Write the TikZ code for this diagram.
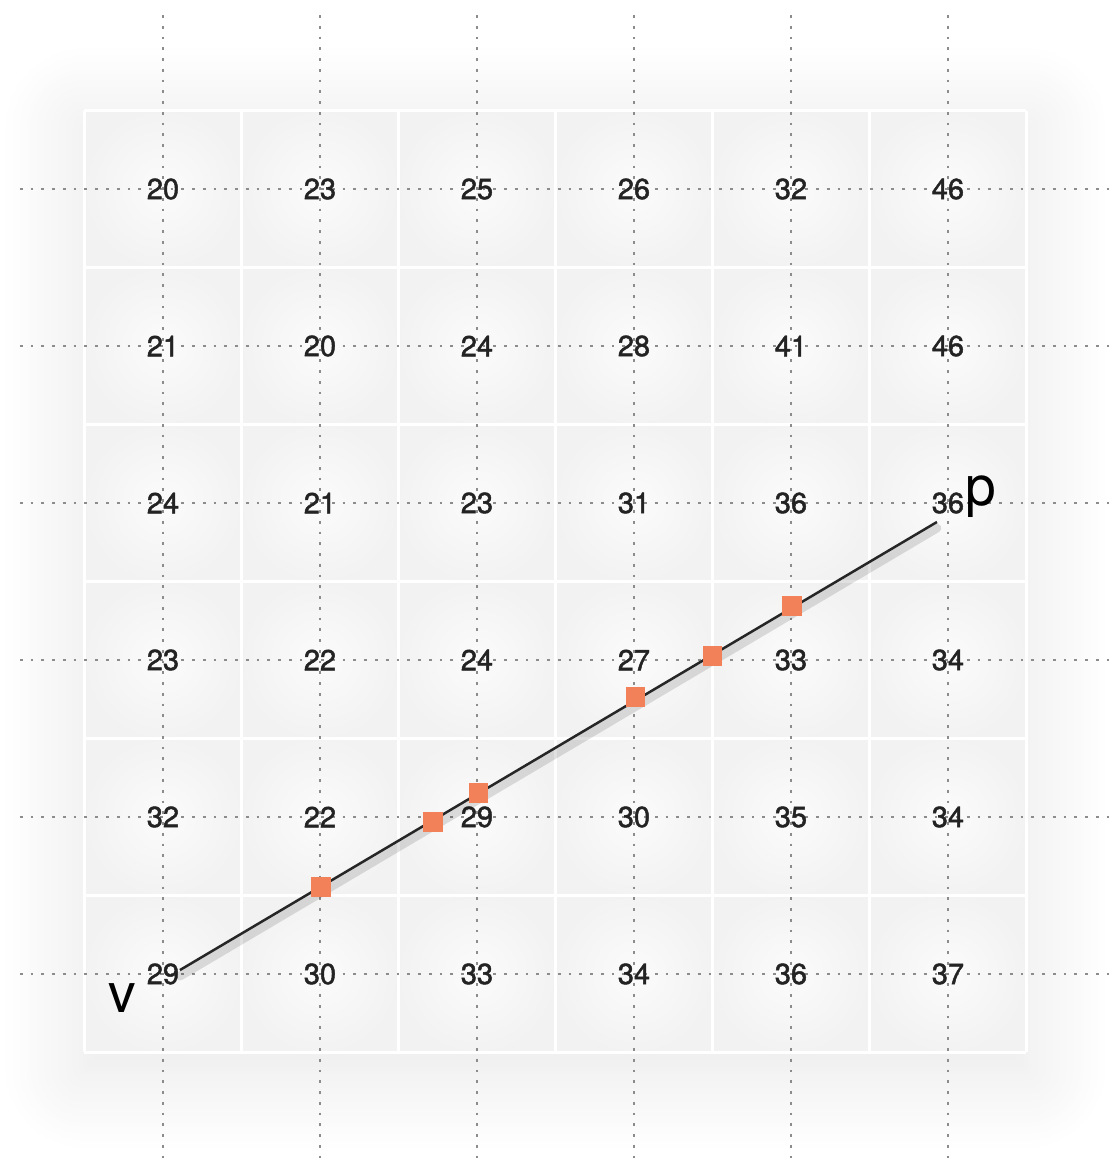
\documentclass[tikz,border=0pt]{standalone}
\usepackage{fontspec}
\setmainfont{TeX Gyre Heros}
\newfontfamily\valfont[FakeBold=1.6]{TeX Gyre Heros}
\usetikzlibrary{positioning, shadows.blur}
\definecolor{hitorange}{RGB}{242, 128, 88}
\definecolor{valgray}{RGB}{35, 35, 35}

\begin{document}
\begin{tikzpicture}[x=2cm, y=2cm,
    gridline/.style={gray!90, line width=0.7pt, dash pattern=on 1pt off 2.9pt},
    tile/.style={inner color=gray!3, outer color=gray!10},
    value/.style={text=valgray, font=\valfont\fontsize{10.5}{11}\selectfont, inner sep=1pt},
    hit/.style={fill=hitorange, minimum size=7pt, inner sep=0pt},
    endlabel/.style={font=\fontsize{20}{22}\selectfont, inner sep=0pt}]
    \useasboundingbox (-1.038,-1.223) rectangle (6.051,6.204);

    % soft halo behind the cells
    \path[fill=gray!6, blur shadow={shadow xshift=0pt, shadow yshift=-6pt,
        shadow blur radius=30pt, shadow blur steps=24, shadow opacity=10}]
        (-0.5,-0.5) rectangle (5.5,5.5);

    % cells
    \foreach \i in {0,...,5}
        \foreach \j in {0,...,5}
            \shade[tile] (\i-0.5,\j-0.5) rectangle ++(1,1);
    \foreach \k in {0,...,6} {
        \draw[white, line width=1.3pt] (\k-0.5,-0.5) -- (\k-0.5,5.5);
        \draw[white, line width=1.3pt] (-0.5,\k-0.5) -- (5.5,\k-0.5);
    }

    % sample lines
    \foreach \k in {0,...,5} {
        \draw[gridline] (\k,6.108) -- (\k,-1.223);
        \draw[gridline] (-0.911,\k) -- (6.051,\k);
    }

    % values
    \foreach \row [count=\j from 0] in {{29,30,33,34,36,37},{32,22,29,30,35,34},
            {23,22,24,27,33,34},{24,21,23,31,36,36},{21,20,24,28,41,46},
            {20,23,25,26,32,46}}
        \foreach \val [count=\i from 0] in \row
            \node[value] (val-\i-\j) at (\i,\j) {\val};

    % ray from v to p
    \coordinate (v) at (0.108,0.025);
    \coordinate (p) at (4.93,2.879);
    \draw[black, opacity=0.12, line width=3.2pt, line cap=round]
        ([yshift=-2.2pt]v) -- ([yshift=-2.2pt]p);
    \draw[black!85, line width=0.9pt] (v) -- (p);

    \node[endlabel, anchor=base] (vlabel) at (-0.261,-0.248) {v};
    \node[endlabel, anchor=base west] (plabel) at (5.108,2.987) {p};

    % crossings with the sample lines
    \node[hit] (hit1) at (1.006,0.554) {};
    \node[hit] (hit2) at (1.72,0.968) {};
    \node[hit] (hit3) at (2.01,1.153) {};
    \node[hit] (hit4) at (3.01,1.764) {};
    \node[hit] (hit5) at (3.50,2.025) {};
    \node[hit] (hit6) at (4.006,2.344) {};
\end{tikzpicture}
\end{document}
